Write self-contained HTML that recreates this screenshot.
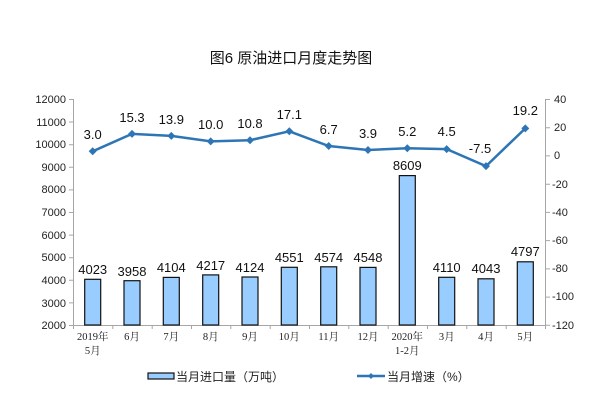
<!DOCTYPE html>
<html><head><meta charset="utf-8"><style>
body{margin:0;background:#fff}
svg{display:block}
.t{font-family:"Liberation Sans","Noto Sans CJK SC",sans-serif}
.c{font-family:"Liberation Serif","Noto Serif CJK SC",serif}
</style></head><body>
<svg width="607" height="416" viewBox="0 0 607 416" xmlns="http://www.w3.org/2000/svg">
<rect width="607" height="416" fill="#fff"/>
<text x="291" y="63" text-anchor="middle" class="t" font-size="15" fill="#111">图6  原油进口月度走势图</text>
<g stroke="#a6a6a6" stroke-width="1" fill="none">
<line x1="73.5" y1="99" x2="73.5" y2="325"/>
<line x1="545.5" y1="99" x2="545.5" y2="325"/>
<line x1="73" y1="325.5" x2="546" y2="325.5"/>
<path d="M69 99.5h4M69 122h4M69 144.7h4M69 167.3h4M69 189.9h4M69 212.5h4M69 235.1h4M69 257.7h4M69 280.3h4M69 302.9h4M69 325.5h4"/>
<path d="M546 99.5h4M546 127.7h4M546 155.9h4M546 184.2h4M546 212.4h4M546 240.6h4M546 268.9h4M546 297.1h4M546 325.3h4"/>
<path d="M73.5 325v4M112.8 325v4M152.2 325v4M191.5 325v4M230.8 325v4M270.2 325v4M309.5 325v4M348.8 325v4M388.2 325v4M427.5 325v4M466.8 325v4M506.2 325v4M545.5 325v4"/>
</g>
<g class="t" font-size="11" fill="#222" text-anchor="end">
<text x="66" y="103">12000</text><text x="66" y="126">11000</text><text x="66" y="148">10000</text>
<text x="66" y="171">9000</text><text x="66" y="193">8000</text><text x="66" y="216">7000</text>
<text x="66" y="239">6000</text><text x="66" y="261">5000</text><text x="66" y="284">4000</text>
<text x="66" y="307">3000</text><text x="66" y="329">2000</text>
</g>
<g class="t" font-size="11" fill="#222" text-anchor="start">
<text x="554" y="103">40</text><text x="554" y="131">20</text><text x="554" y="159">0</text>
<text x="552" y="188">-20</text><text x="552" y="216">-40</text><text x="552" y="244">-60</text>
<text x="552" y="272">-80</text><text x="552" y="300">-100</text><text x="552" y="329">-120</text>
</g>
<g fill="#99ccff" stroke="#111" stroke-width="1.2">
<rect x="84.7" y="279.3" width="16" height="45.7"/>
<rect x="124" y="280.7" width="16" height="44.3"/>
<rect x="163.3" y="277.4" width="16" height="47.6"/>
<rect x="202.7" y="274.9" width="16" height="50.1"/>
<rect x="242" y="277" width="16" height="48"/>
<rect x="281.3" y="267.3" width="16" height="57.7"/>
<rect x="320.7" y="266.8" width="16" height="58.2"/>
<rect x="360" y="267.4" width="16" height="57.6"/>
<rect x="399.3" y="175.6" width="16" height="149.4"/>
<rect x="438.7" y="277.3" width="16" height="47.7"/>
<rect x="478" y="278.8" width="16" height="46.2"/>
<rect x="517.3" y="261.8" width="16" height="63.2"/>
</g>
<g class="t" font-size="13" fill="#111" text-anchor="middle">
<text x="92.7" y="274">4023</text><text x="132" y="276">3958</text><text x="171.3" y="272">4104</text>
<text x="210.7" y="270">4217</text><text x="250" y="272">4124</text><text x="289.3" y="262">4551</text>
<text x="328.7" y="262">4574</text><text x="368" y="262">4548</text><text x="407.3" y="170">8609</text>
<text x="446.7" y="272">4110</text><text x="486" y="273">4043</text><text x="525.3" y="256">4797</text>
</g>
<polyline fill="none" stroke="#2e75b6" stroke-width="2.5" points="92.7,151.3 132,133.9 171.3,135.9 210.7,141.4 250,140.2 289.3,131.3 328.7,146 368,150 407.3,148.2 446.7,149.1 486,166.1 525.3,128.4"/>
<g fill="#2e75b6">
<path d="M92.7 147.3l4 4-4 4-4-4z"/><path d="M132 129.9l4 4-4 4-4-4z"/><path d="M171.3 131.9l4 4-4 4-4-4z"/>
<path d="M210.7 137.4l4 4-4 4-4-4z"/><path d="M250 136.2l4 4-4 4-4-4z"/><path d="M289.3 127.3l4 4-4 4-4-4z"/>
<path d="M328.7 142l4 4-4 4-4-4z"/><path d="M368 146l4 4-4 4-4-4z"/><path d="M407.3 144.2l4 4-4 4-4-4z"/>
<path d="M446.7 145.1l4 4-4 4-4-4z"/><path d="M486 162.1l4 4-4 4-4-4z"/><path d="M525.3 124.4l4 4-4 4-4-4z"/>
</g>
<g class="t" font-size="13" fill="#111" text-anchor="middle">
<text x="92.7" y="139">3.0</text><text x="132" y="122">15.3</text><text x="171.3" y="124">13.9</text>
<text x="210.7" y="129">10.0</text><text x="250" y="128">10.8</text><text x="289.3" y="119">17.1</text>
<text x="328.7" y="134">6.7</text><text x="368" y="138">3.9</text><text x="407.3" y="136">5.2</text>
<text x="446.7" y="136">4.5</text><text x="480" y="153">-7.5</text><text x="525.3" y="115">19.2</text>
</g>
<g class="c" font-size="10.5" fill="#222" text-anchor="middle">
<text x="92.7" y="340">2019年</text><text x="92.7" y="354">5月</text>
<text x="132" y="340">6月</text><text x="171.3" y="340">7月</text><text x="210.7" y="340">8月</text>
<text x="250" y="340">9月</text><text x="289.3" y="340">10月</text><text x="328.7" y="340">11月</text>
<text x="368" y="340">12月</text><text x="407.3" y="340">2020年</text><text x="407.3" y="354">1-2月</text>
<text x="446.7" y="340">3月</text><text x="486" y="340">4月</text><text x="525.3" y="340">5月</text>
</g>
<rect x="148" y="373" width="26" height="6" fill="#99ccff" stroke="#111" stroke-width="1.2"/>
<text x="176" y="381" class="t" font-size="12" fill="#222">当月进口量（万吨）</text>
<line x1="357" y1="376" x2="385" y2="376" stroke="#2e75b6" stroke-width="2.5"/>
<path d="M371 373l3 3-3 3-3-3z" fill="#2e75b6"/>
<text x="387" y="381" class="t" font-size="12" fill="#222">当月增速（%）</text>
</svg>
</body></html>
